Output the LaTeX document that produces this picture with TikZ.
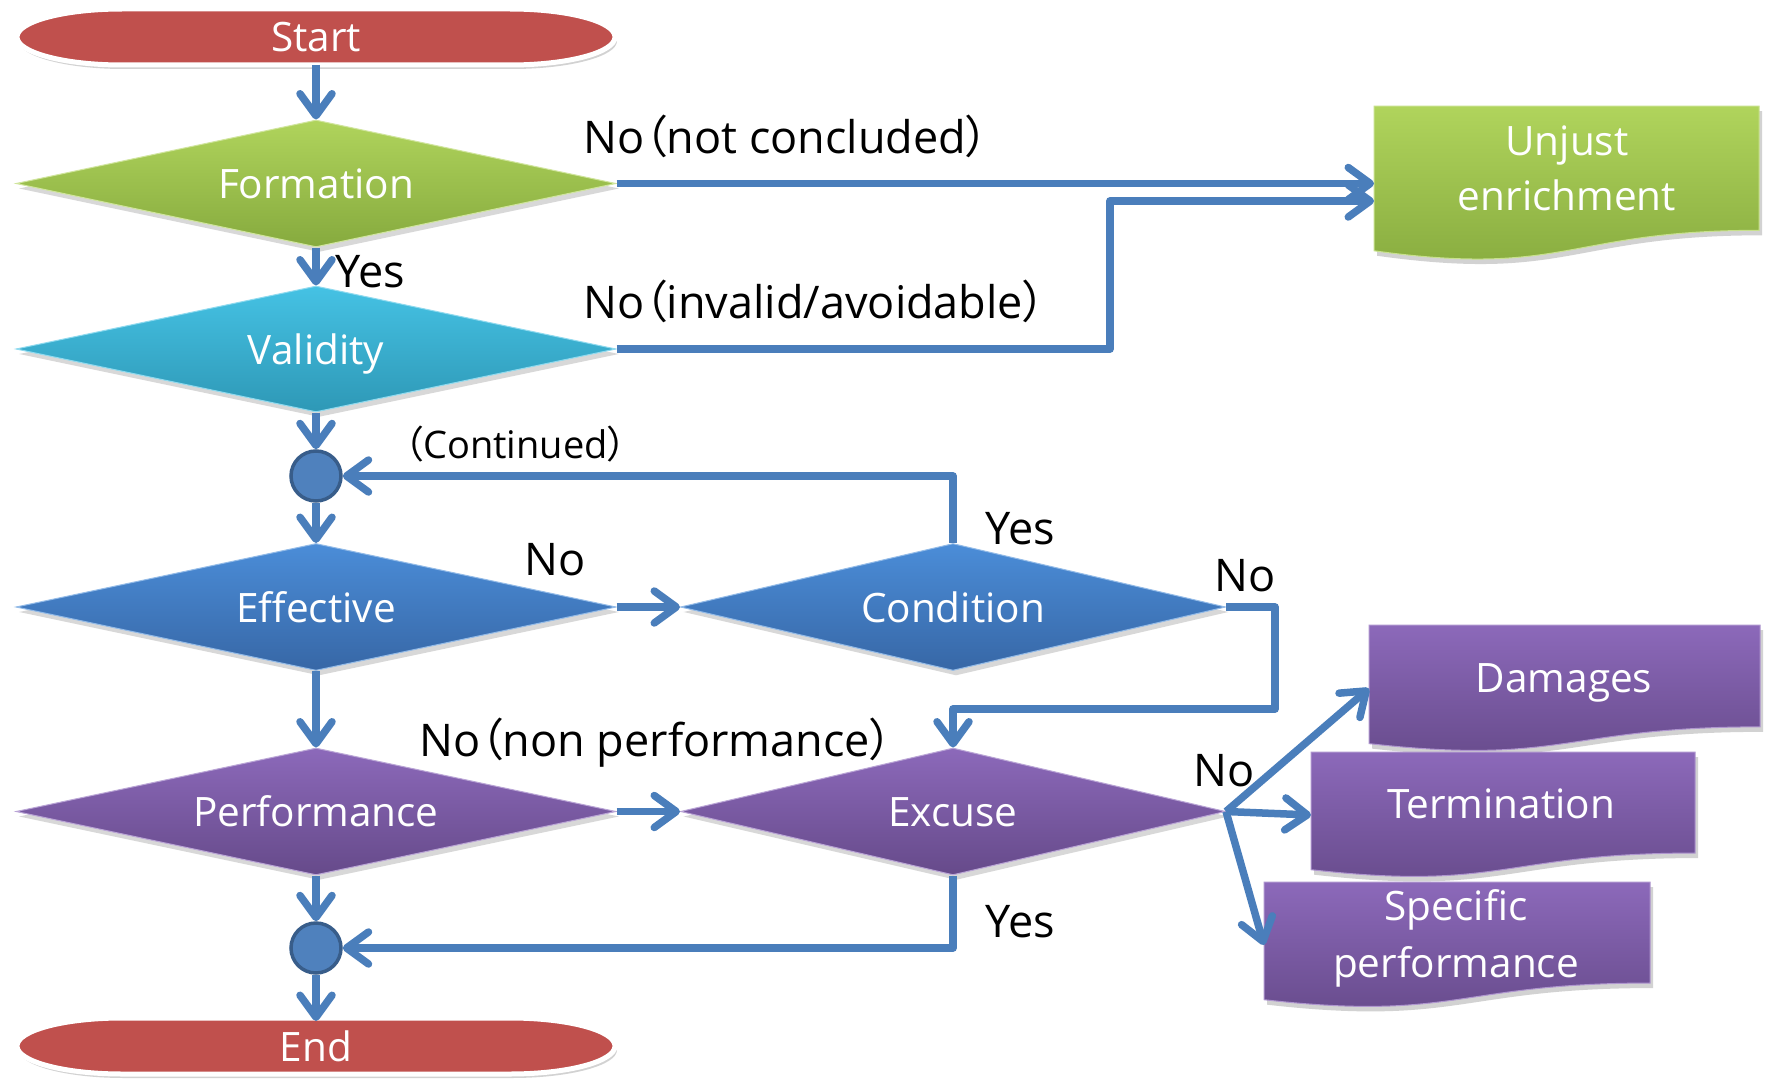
\documentclass[tikz,border=0pt]{standalone}
\usepackage{fontspec}
\setmainfont{Open Sans}
\newfontfamily\cjkfont[RawFeature=+palt]{Noto Sans CJK JP}
\usetikzlibrary{shapes.geometric, arrows.meta, shadows, calc}
\pgfdeclarelayer{background}
\pgfsetlayers{background,main}
\definecolor{conn}{HTML}{4A7EBB}
\definecolor{redc}{HTML}{C0504D}
\definecolor{gtop}{HTML}{B0D45C}
\definecolor{gbot}{HTML}{86AA3E}
\definecolor{ctop}{HTML}{45C2E4}
\definecolor{cbot}{HTML}{2E98B6}
\definecolor{btop}{HTML}{4B8DD8}
\definecolor{bbot}{HTML}{3767A6}
\definecolor{ptop}{HTML}{8C69BA}
\definecolor{pbot}{HTML}{664A8A}
\definecolor{jfill}{HTML}{4F81BD}
\definecolor{jdraw}{HTML}{385D8A}
\newcommand\fwl{{\cjkfont （}}
\newcommand\fwr{{\cjkfont ）}}
\newcommand\docshape[3]{%
  \path[top color=#2, bottom color=#3, draw=#2!70!white, line width=1pt,
        drop shadow={shadow xshift=3pt, shadow yshift=-5pt, opacity=0.35}]
    (#1.north west) -- (#1.north east)
    -- ($(#1.north east)!0.802!(#1.south east)$)
    .. controls ($(#1.north)!0.802!(#1.south)$) and ($(#1.north)!1.1075!(#1.south)$)
    .. ($(#1.north west)!0.934!(#1.south west)$) -- cycle;}
% stadium-like terminal with elliptical ends (x radius 105, y radius = half height)
\newcommand\termshape[1]{%
  \path[fill=redc, draw=white, line width=5pt,
        drop shadow={shadow xshift=2pt, shadow yshift=-4pt, opacity=0.35}]
    ($(#1.north west)+(105,0)$) -- ($(#1.north east)+(-105,0)$)
    arc[start angle=-90, end angle=90, x radius=105, y radius=28]
    -- ($(#1.south west)+(105,0)$)
    arc[start angle=90, end angle=270, x radius=105, y radius=28] -- cycle;}
\tikzset{
  shapetext/.style={text=white, font=\fontsize{40.5}{48}\selectfont},
  lbl/.style={font=\fontsize{45}{54}\selectfont, text=black, inner sep=0pt, anchor=base west},
  dtext/.style={shapetext, inner sep=0pt, anchor=base},
  dia/.style={diamond, aspect=4.7, inner sep=0pt, minimum width=600pt, minimum height=127pt,
    shapetext, line width=1pt, text height=30pt, text depth=0pt,
    drop shadow={shadow xshift=3pt, shadow yshift=-5pt, opacity=0.3}},
  greendia/.style={dia, top color=gtop, bottom color=gbot, draw=gtop!60!white},
  cyandia/.style={dia, top color=ctop, bottom color=cbot, draw=ctop!60!white},
  bluedia/.style={dia, top color=btop, bottom color=bbot, draw=btop!60!white},
  purpdia/.style={dia, top color=ptop, bottom color=pbot, draw=ptop!60!white},
  terminal/.style={rectangle, minimum width=598pt, minimum height=56pt, inner sep=0pt,
    outer sep=0pt, shapetext, text height=30pt, text depth=0pt},
  junction/.style={circle, minimum size=50pt, inner sep=0pt, fill=jfill, draw=jdraw, line width=3.5pt},
  docbox/.style={rectangle, inner sep=0pt, outer sep=0pt},
  flow/.style={draw=conn, line width=7.5pt, line join=round,
    -{Straight Barb[length=22pt, width=32pt, round]}},
}
\begin{document}
\begin{tikzpicture}[x=1pt, y=-1pt]
\useasboundingbox (0,0) rectangle (1765,1081);
\begin{pgfonlayer}{background}
\fill[white] (0,0) rectangle (1765,1081);
\end{pgfonlayer}

% document boxes
\node[docbox, minimum width=385pt, minimum height=155pt] (unj) at (1566.5,183.5) {};
\node[docbox, minimum width=391pt, minimum height=127pt] (dam) at (1564.5,688.5) {};
\node[docbox, minimum width=384pt, minimum height=126pt] (term) at (1503,815) {};
\node[docbox, minimum width=386pt, minimum height=126pt] (spec) at (1457,945) {};
\docshape{unj}{gtop}{gbot}
\docshape{dam}{ptop}{pbot}
\docshape{term}{ptop}{pbot}
\docshape{spec}{ptop}{pbot}
\node[dtext] (unjt1) at (1567,155) {Unjust};
\node[dtext] (unjt2) at (1567,210) {enrichment};
\node[dtext] (damt) at (1564,692) {Damages};
\node[dtext] (termt) at (1501,818) {Termination};
\node[dtext] (spect1) at (1456,920) {Specific};
\node[dtext] (spect2) at (1456,977) {performance};

% main nodes
\node[terminal] (start) at (316,37) {Start};
\node[greendia] (form) at (316,183.5) {Formation};
\node[cyandia, minimum height=126pt] (valid) at (316,349) {Validity};
\node[junction] (c1) at (316,476) {};
\node[bluedia] (eff) at (316,607) {Effective};
\node[bluedia, minimum width=545pt] (cond) at (953,607) {Condition};
\node[purpdia] (perf) at (316,811.5) {Performance};
\node[purpdia, minimum width=545pt] (exc) at (953,811.5) {Excuse};
\node[junction] (c2) at (316,948) {};
\node[terminal] (end) at (316,1046) {End};
\begin{pgfonlayer}{background}
\termshape{start}
\termshape{end}
\end{pgfonlayer}

% helper coordinates
\coordinate (k1) at (1275,709);
\coordinate (k2) at (1110,201);

% connectors
\draw[flow] (start.south) -- (form.north);
\draw[flow] (form.south) -- (valid.north);
\draw[flow] (valid.south) -- (c1.north);
\draw[flow] (c1.south) -- (eff.north);
\draw[flow] (eff.east) -- (cond.west);
\draw[flow] (cond.north) |- (c1.east);
\draw[flow] (cond.east) -| (k1) -| (exc.north);
\draw[flow] (eff.south) -- (perf.north);
\draw[flow] (perf.east) -- (exc.west);
\draw[flow] (perf.south) -- (c2.north);
\draw[flow] (exc.south) |- (c2.east);
\draw[flow] (c2.south) -- ([yshift=-3pt]end.north);
\draw[flow] (form.east) -- (form.east -| unj.west);
\draw[flow] (valid.east) -| (k2) -- (k2 -| unj.west);
\draw[flow] (exc.east) -- (dam.west);
\draw[flow] (exc.east) -- (term.west);
\draw[flow] (exc.east) -- (spec.west);

% labels
\node[lbl] (lnc) at (583,153) {No\fwl not concluded\fwr};
\node[lbl] (lia) at (583,318) {No\fwl invalid/avoidable\fwr};
\node[lbl] (lyes1) at (335,287) {Yes};
\node[lbl, font=\fontsize{38}{46}\selectfont] (lcont) at (404,458) {\fwl Continued\fwr};
\node[lbl] (lno1) at (524,575) {No};
\node[lbl] (lyes2) at (985,544) {Yes};
\node[lbl] (lno2) at (1214,591) {No};
\node[lbl] (lnpf) at (419,756) {No\fwl non performance\fwr};
\node[lbl] (lno3) at (1193,786) {No};
\node[lbl] (lyes3) at (985,937) {Yes};
\end{tikzpicture}
\end{document}
